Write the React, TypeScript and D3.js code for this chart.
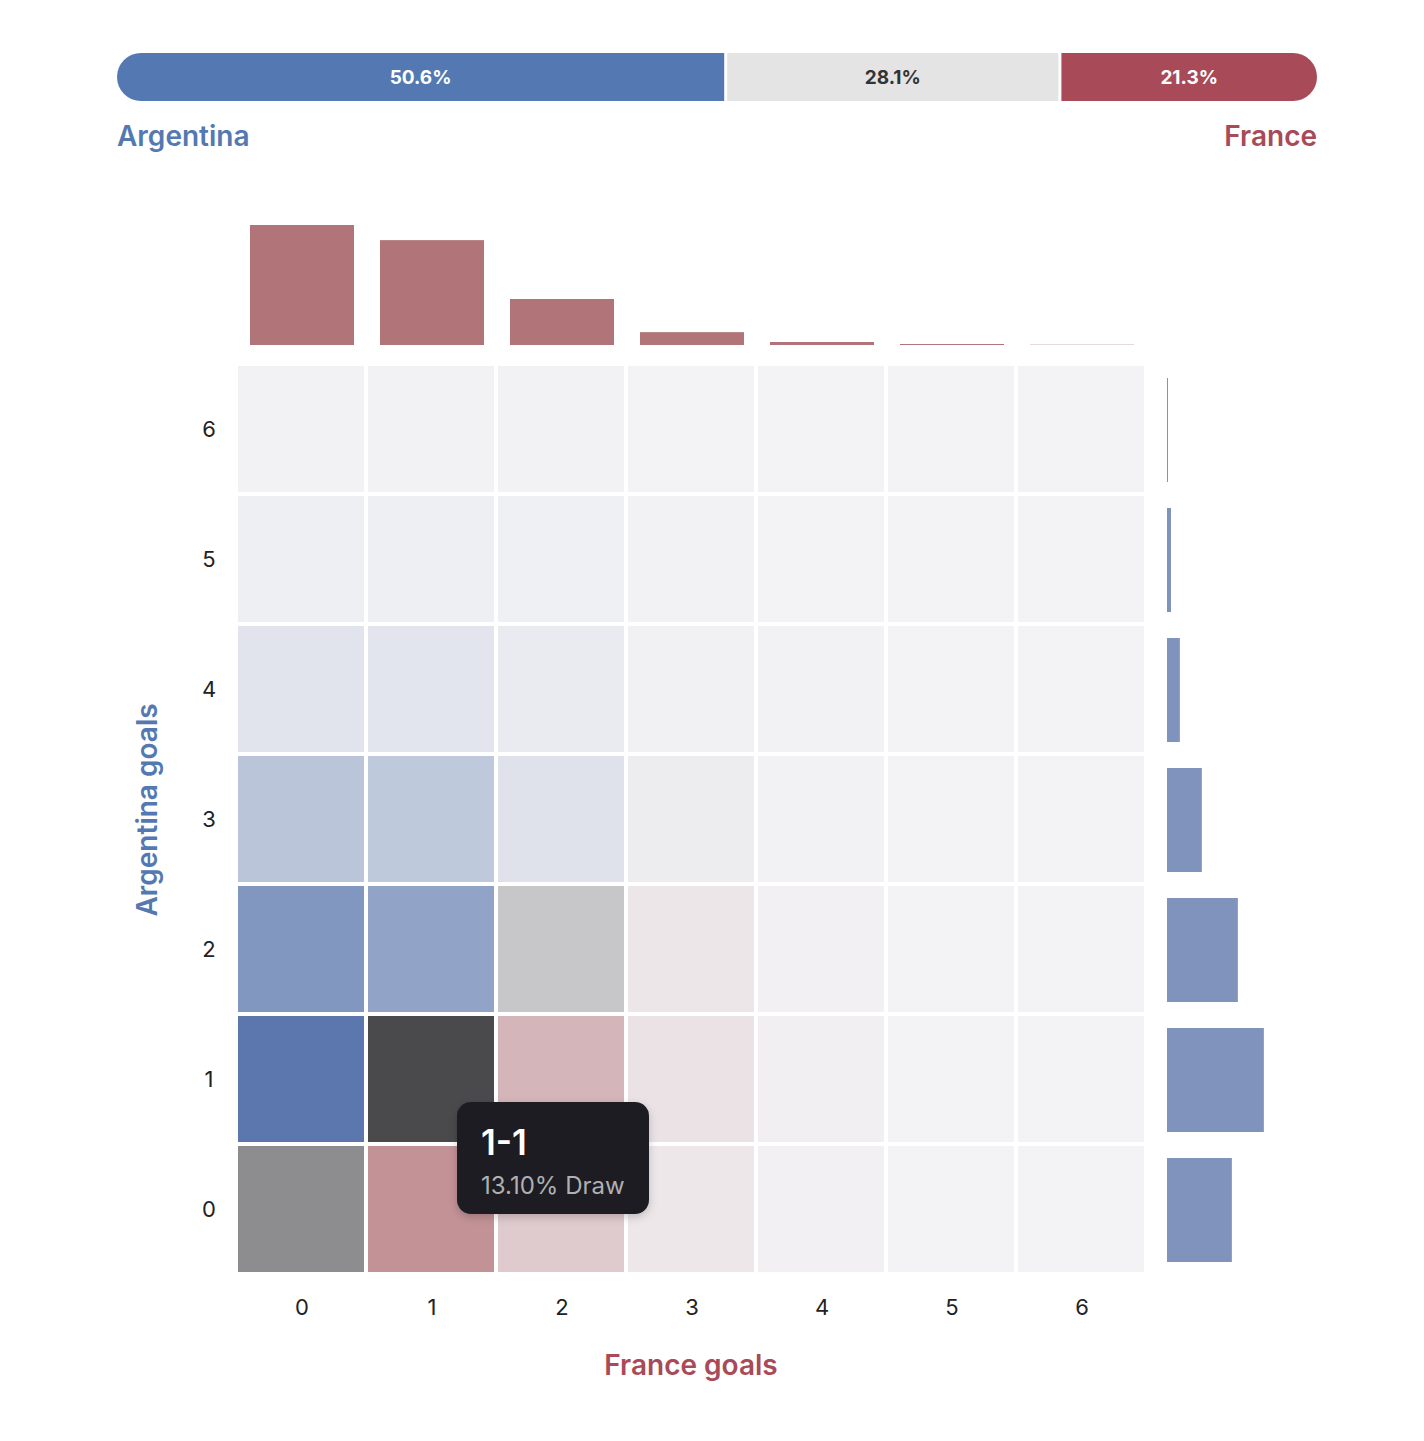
import React from 'react';
import * as d3 from 'd3';

// Outcome split (percent) for the top bar
const outcomeLabels = ['Argentina', 'Draw', 'France'];
const outcomePct = [50.6, 28.1, 21.3];

const goals = [0, 1, 2, 3, 4, 5, 6];

// Scoreline probabilities in percent: rows = Argentina goals, columns = France goals
const scoreGrid = [
  [7.9, 8.3, 3.5, 1.0, 0.25, 0.05, 0.01],
  [14.1, 13.1, 5.3, 1.5, 0.35, 0.06, 0.01],
  [10.5, 9.1, 3.4, 1.1, 0.25, 0.04, 0.01],
  [5.2, 4.8, 1.9, 0.45, 0.12, 0.02, 0.0],
  [1.7, 1.6, 0.9, 0.2, 0.04, 0.01, 0.0],
  [0.5, 0.5, 0.35, 0.08, 0.02, 0.0, 0.0],
  [0.1, 0.1, 0.06, 0.02, 0.0, 0.0, 0.0],
];

// Marginal goal distributions (percent)
const franceGoalsPct = [42.0, 36.7, 16.1, 4.5, 1.05, 0.35, 0.1];
const argentinaGoalsPct = [22.7, 33.9, 24.8, 12.2, 4.5, 1.4, 0.35];

// Highlighted scoreline shown in the tooltip
const hovered = { argentina: 1, france: 1 };

const W = 1424;
const H = 1441;
const BLUE = '#5479b2';
const RED = '#a84a58';
const GREY_BAR = '#e4e4e4';
const FONT = 'Inter, Roboto, sans-serif';

const App = () => {
  // top outcome bar
  const barX = d3.scaleLinear().domain([0, 100]).range([117, 1317]);
  const cum = d3.cumsum(outcomePct);
  const segColors = [BLUE, GREY_BAR, RED];
  const segText = ['#ffffff', '#333333', '#ffffff'];
  const segStart = (i: number) => barX(i === 0 ? 0 : cum[i - 1]);
  const segEnd = (i: number) => barX(cum[i]);

  // heatmap grid
  const x = d3.scaleBand<number>().domain(goals).range([236, 1146]);
  const y = d3.scaleBand<number>().domain(goals).range([1274, 364]);
  const gap = 2;

  const maxCell = d3.max(scoreGrid.flat()) as number;
  const fullColor = (a: number, f: number) =>
    a > f ? '#5b77ad' : a === f ? '#3d3d40' : '#a14f55';
  const cellColor = (a: number, f: number, p: number) =>
    d3.interpolateRgb('#f3f3f5', fullColor(a, f))(p / maxCell);

  // marginal bars share one length scale
  const margMax = d3.max([...franceGoalsPct, ...argentinaGoalsPct]) as number;
  const len = d3.scaleLinear().domain([0, margMax]).range([0, 120]);
  const topBase = 345;
  const rightBase = 1167;
  const inset = 12;

  const cells = goals.flatMap((a) =>
    goals.map((f) => ({ a, f, p: scoreGrid[a][f] }))
  );

  const hv = scoreGrid[hovered.argentina][hovered.france];
  const tipX = (x(hovered.france) as number) + x.bandwidth() / 2 + 26;
  const tipY = (y(hovered.argentina) as number) + y.bandwidth() / 2 + 23;
  const tipKind =
    hovered.argentina > hovered.france
      ? 'Argentina'
      : hovered.argentina === hovered.france
      ? 'Draw'
      : 'France';

  return (
    <div style={{ position: 'absolute', left: 0, top: 0 }}>
      <svg width={W} height={H} style={{ display: 'block', background: '#fff' }}>
        <defs>
          <clipPath id="outcome-clip">
            <rect x={barX(0)} y={53} width={barX(100) - barX(0)} height={48} rx={24} ry={24} />
          </clipPath>
          <filter id="tip-shadow" x="-20%" y="-20%" width="140%" height="150%">
            <feDropShadow dx="0" dy="3" stdDeviation="4" floodColor="#000" floodOpacity="0.2" />
          </filter>
        </defs>

        {/* outcome split; the draw segment is inset to leave white gaps */}
        <g clipPath="url(#outcome-clip)">
          {outcomePct.map((p, i) => {
            const inner = i > 0 && i < outcomePct.length - 1 ? 3 : 0;
            const x0 = segStart(i) + inner;
            const x1 = segEnd(i) - inner;
            return <rect key={outcomeLabels[i]} x={x0} y={53} width={x1 - x0} height={48} fill={segColors[i]} />;
          })}
        </g>
        {outcomePct.map((p, i) => (
          <text
            key={'t' + i}
            x={(segStart(i) + segEnd(i)) / 2}
            y={84}
            textAnchor="middle"
            fontFamily={FONT}
            fontWeight={700}
            fontSize={19}
            fill={segText[i]}
          >
            {p.toFixed(1)}%
          </text>
        ))}
        <text x={117} y={146} fontFamily={FONT} fontWeight={600} fontSize={28} fill={BLUE}>
          Argentina
        </text>
        <text x={1317} y={146} textAnchor="end" fontFamily={FONT} fontWeight={600} fontSize={28} fill={RED}>
          France
        </text>

        {/* France goals distribution */}
        {goals.map((g) => (
          <rect
            key={'fb' + g}
            x={(x(g) as number) + inset + 2}
            y={topBase - len(franceGoalsPct[g])}
            width={x.bandwidth() - 2 * inset - 2}
            height={len(franceGoalsPct[g])}
            fill="#b07479"
          />
        ))}

        {/* Argentina goals distribution */}
        {goals.map((g) => (
          <rect
            key={'ab' + g}
            x={rightBase}
            y={(y(g) as number) + inset + 2}
            width={len(argentinaGoalsPct[g])}
            height={y.bandwidth() - 2 * inset - 2}
            fill="#7f93bd"
          />
        ))}

        {/* scoreline grid */}
        {cells.map((c) => (
          <rect
            key={c.a + '-' + c.f}
            x={(x(c.f) as number) + gap}
            y={(y(c.a) as number) + gap}
            width={x.bandwidth() - 2 * gap}
            height={y.bandwidth() - 2 * gap}
            fill={cellColor(c.a, c.f, c.p)}
          />
        ))}

        {/* axes */}
        {goals.map((g) => (
          <text
            key={'xt' + g}
            x={(x(g) as number) + x.bandwidth() / 2 + 1}
            y={1315}
            textAnchor="middle"
            fontFamily={FONT}
            fontSize={22}
            fill="#222"
          >
            {g}
          </text>
        ))}
        {goals.map((g) => (
          <text
            key={'yt' + g}
            x={209}
            y={(y(g) as number) + y.bandwidth() / 2 + 8}
            textAnchor="middle"
            fontFamily={FONT}
            fontSize={22}
            fill="#222"
          >
            {g}
          </text>
        ))}
        <text
          x={(x.range()[0] + x.range()[1]) / 2}
          y={1375}
          textAnchor="middle"
          fontFamily={FONT}
          fontWeight={600}
          fontSize={28}
          fill={RED}
        >
          France goals
        </text>
        <text
          transform={`translate(157, ${(y.range()[0] + y.range()[1]) / 2 - 9}) rotate(-90)`}
          textAnchor="middle"
          fontFamily={FONT}
          fontWeight={600}
          fontSize={28}
          fill={BLUE}
        >
          Argentina goals
        </text>

        {/* tooltip */}
        <g transform={`translate(${tipX}, ${tipY})`}>
          <rect width={192} height={112} rx={14} ry={14} fill="#1f1f21" filter="url(#tip-shadow)" />
          <text x={24} y={53} fontFamily={FONT} fontWeight={600} fontSize={35} fill="#ffffff">
            {hovered.argentina}-{hovered.france}
          </text>
          <text x={24} y={92} fontFamily={FONT} fontSize={24} fill="#b0b0b0">
            {hv.toFixed(2)}% {tipKind}
          </text>
        </g>
      </svg>
    </div>
  );
};

export default App;
